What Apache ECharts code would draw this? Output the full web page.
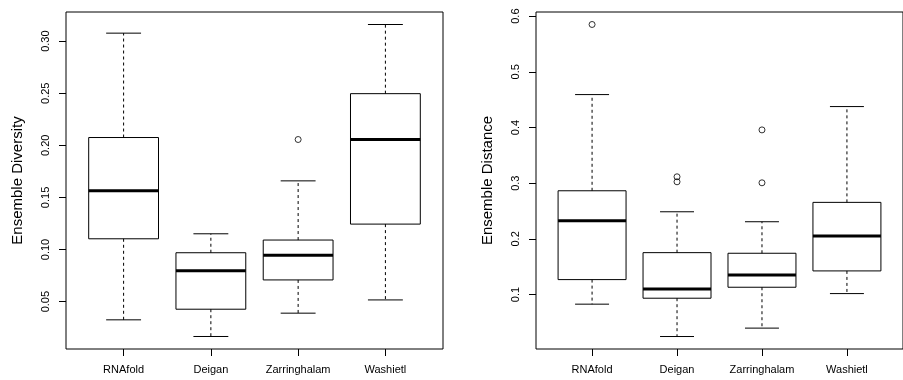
<!DOCTYPE html>
<html>
<head>
<meta charset="utf-8">
<script src="https://cdn.jsdelivr.net/npm/echarts@6/dist/echarts.min.js"></script>
<style>
  html, body { margin: 0; padding: 0; background: #fff; }
  #chart { width: 903px; height: 380px; }
</style>
</head>
<body>
<div id="chart"></div>
<script>
// Methods compared in both panels
const methods = ['RNAfold', 'Deigan', 'Zarringhalam', 'Washietl'];

// Box summaries per method: [lower whisker, Q1, median, Q3, upper whisker]
const diversityStats = [
  [0.0325, 0.1103, 0.1563, 0.2075, 0.3077],
  [0.0165, 0.0427, 0.0797, 0.0969, 0.1151],
  [0.0389, 0.0708, 0.0944, 0.1091, 0.1659],
  [0.0516, 0.1244, 0.2056, 0.2496, 0.3160]
];
// Outliers as [method position (1-based), value]
const diversityOutliers = [[3, 0.2056]];

const distanceStats = [
  [0.0828, 0.1269, 0.2326, 0.2864, 0.4591],
  [0.0247, 0.0935, 0.1102, 0.1753, 0.2487],
  [0.0398, 0.1132, 0.1353, 0.1742, 0.2308],
  [0.1018, 0.1425, 0.2052, 0.2656, 0.4376]
];
const distanceOutliers = [[1, 0.585], [2, 0.3115], [2, 0.3025], [3, 0.3957], [3, 0.3007]];

// Tick labels on the value axes
const diversityTicks = [0.05, 0.10, 0.15, 0.20, 0.25, 0.30];
const distanceTicks = [0.1, 0.2, 0.3, 0.4, 0.5, 0.6];
const methodTicks = [1, 2, 3, 4];

const FONT = '"Liberation Sans", Arial, Helvetica, sans-serif';

// Draws one box with dashed whiskers, staples and a heavy median bar
function renderBox(params, api) {
  const x = api.value(0);
  const pt = i => api.coord([x, api.value(i)]);
  const lo = pt(1), q1 = pt(2), med = pt(3), q3 = pt(4), hi = pt(5);
  const boxW = api.size([0.8, 0])[0];
  const capW = api.size([0.4, 0])[0];
  const cx = lo[0];
  const solid = { stroke: '#000', lineWidth: 1 };
  const dashed = { stroke: '#000', lineWidth: 1, lineDash: [3, 3] };
  const line = (x1, y1, x2, y2, style) => ({ type: 'line', shape: { x1, y1, x2, y2 }, style });
  return {
    type: 'group',
    children: [
      line(cx, q3[1], cx, hi[1], dashed),
      line(cx, q1[1], cx, lo[1], dashed),
      line(cx - capW / 2, hi[1], cx + capW / 2, hi[1], solid),
      line(cx - capW / 2, lo[1], cx + capW / 2, lo[1], solid),
      { type: 'rect', shape: { x: cx - boxW / 2, y: q3[1], width: boxW, height: q1[1] - q3[1] },
        style: { fill: 'none', stroke: '#000', lineWidth: 1 } },
      line(cx - boxW / 2, med[1], cx + boxW / 2, med[1], { stroke: '#000', lineWidth: 3 })
    ]
  };
}

function xAxisFor(gridIndex) {
  return {
    type: 'value', gridIndex, min: 0.34, max: 4.66,
    splitLine: { show: false },
    axisLine: { show: false },
    axisTick: { show: true, customValues: methodTicks, length: 7, lineStyle: { color: '#000', width: 1 } },
    axisLabel: { customValues: methodTicks, formatter: v => methods[Math.round(v) - 1],
      margin: 15, fontSize: 11, color: '#000', fontFamily: FONT }
  };
}

function yAxisFor(gridIndex, name, min, max, ticks, digits) {
  return {
    type: 'value', gridIndex, min, max, name,
    nameLocation: 'middle', nameGap: 41,
    nameTextStyle: { fontSize: 15, color: '#000', fontFamily: FONT },
    splitLine: { show: false },
    axisLine: { show: false },
    axisTick: { show: true, customValues: ticks, length: 7, lineStyle: { color: '#000', width: 1 } },
    axisLabel: { customValues: ticks, rotate: 90, formatter: v => v.toFixed(digits),
      margin: 15, fontSize: 11, color: '#000', fontFamily: FONT }
  };
}

const toBoxData = stats => stats.map((s, i) => [i + 1, ...s]);

const outlierStyle = { color: 'rgba(0,0,0,0)', borderColor: '#000', borderWidth: 1 };

const chart = echarts.init(document.getElementById('chart'), null, { renderer: 'canvas' });
chart.setOption({
  animation: false,
  backgroundColor: '#fff',
  grid: [
    { left: 66, top: 12, width: 377, height: 337, show: true, borderColor: '#000', borderWidth: 1, backgroundColor: 'transparent' },
    { left: 536, top: 12, width: 377, height: 337, show: true, borderColor: '#000', borderWidth: 1, backgroundColor: 'transparent' }
  ],
  xAxis: [xAxisFor(0), xAxisFor(1)],
  yAxis: [
    yAxisFor(0, 'Ensemble Diversity', 0.0045, 0.3280, diversityTicks, 2),
    yAxisFor(1, 'Ensemble Distance', 0.0023, 0.6074, distanceTicks, 1)
  ],
  series: [
    { type: 'custom', xAxisIndex: 0, yAxisIndex: 0, renderItem: renderBox,
      encode: { x: 0, y: [1, 2, 3, 4, 5] }, data: toBoxData(diversityStats) },
    { type: 'scatter', xAxisIndex: 0, yAxisIndex: 0, symbol: 'circle', symbolSize: 6,
      itemStyle: outlierStyle, data: diversityOutliers },
    { type: 'custom', xAxisIndex: 1, yAxisIndex: 1, renderItem: renderBox,
      encode: { x: 0, y: [1, 2, 3, 4, 5] }, data: toBoxData(distanceStats) },
    { type: 'scatter', xAxisIndex: 1, yAxisIndex: 1, symbol: 'circle', symbolSize: 6,
      itemStyle: outlierStyle, data: distanceOutliers }
  ]
});
</script>
</body>
</html>
